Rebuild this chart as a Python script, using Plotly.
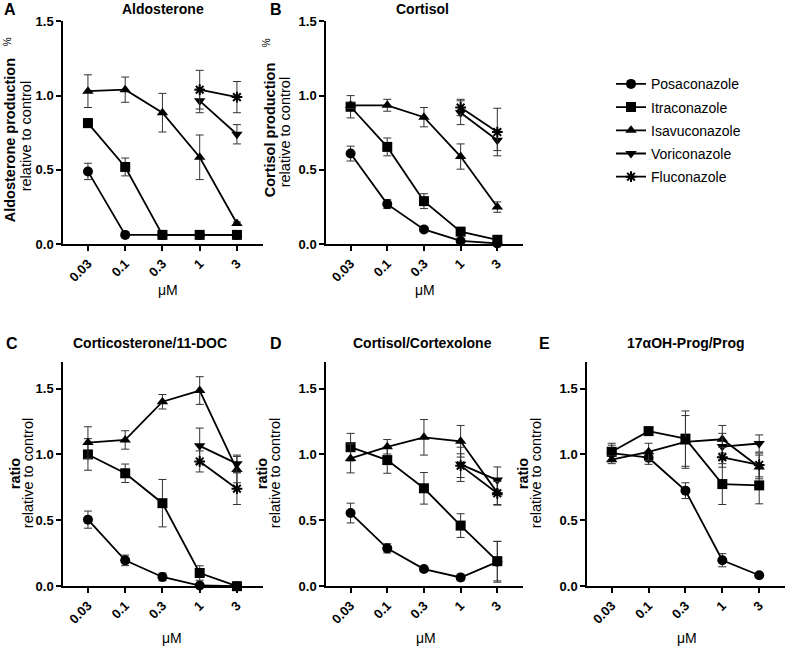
import plotly.graph_objects as go

W, H = 786, 646
FONT = "Liberation Sans, Arial, sans-serif"

doses = ["0.03", "0.1", "0.3", "1", "3"]
drugs = ["Posaconazole", "Itraconazole", "Isavuconazole", "Voriconazole", "Fluconazole"]
symbols = ["circle", "square", "triangle-up", "triangle-down", "asterisk-open"]

# Panel A: Aldosterone
a_posa = [0.49, 0.063, 0.063, 0.063, 0.063]
a_posa_err = [0.055, 0, 0, 0, 0]
a_itra = [0.815, 0.52, 0.063, 0.063, 0.063]
a_itra_err = [0.03, 0.06, 0, 0, 0]
a_isav = [1.03, 1.04, 0.885, 0.585, 0.14]
a_isav_err = [0.11, 0.085, 0.13, 0.15, 0.01]
a_vori = [None, None, None, 0.965, 0.74]
a_vori_err = [0, 0, 0, 0.08, 0.065]
a_fluc = [None, None, None, 1.04, 0.99]
a_fluc_err = [0, 0, 0, 0.13, 0.105]

# Panel B: Cortisol
b_posa = [0.61, 0.27, 0.10, 0.022, 0.006]
b_posa_err = [0.05, 0.03, 0.01, 0.01, 0.005]
b_itra = [0.925, 0.655, 0.29, 0.085, 0.03]
b_itra_err = [0.075, 0.06, 0.05, 0.01, 0.01]
b_isav = [0.935, 0.935, 0.855, 0.59, 0.25]
b_isav_err = [0.02, 0.04, 0.065, 0.085, 0.035]
b_vori = [None, None, None, 0.885, 0.70]
b_vori_err = [0, 0, 0, 0.08, 0.07]
b_fluc = [None, None, None, 0.92, 0.755]
b_fluc_err = [0, 0, 0, 0.055, 0.16]

# Panel C: Corticosterone/11-DOC
c_posa = [0.505, 0.196, 0.07, 0.005, 0.0]
c_posa_err = [0.065, 0.04, 0.03, 0.01, 0.0]
c_itra = [1.0, 0.857, 0.63, 0.10, 0.0]
c_itra_err = [0.12, 0.07, 0.18, 0.055, 0.01]
c_isav = [1.09, 1.11, 1.40, 1.485, 0.885]
c_isav_err = [0.12, 0.07, 0.055, 0.105, 0.1]
c_vori = [None, None, None, 1.065, 0.93]
c_vori_err = [0, 0, 0, 0.135, 0.065]
c_fluc = [None, None, None, 0.947, 0.74]
c_fluc_err = [0, 0, 0, 0.08, 0.12]

# Panel D: Cortisol/Cortexolone
d_posa = [0.555, 0.287, 0.13, 0.066, 0.185]
d_posa_err = [0.075, 0.035, 0.015, 0.025, 0.155]
d_itra = [1.055, 0.957, 0.743, 0.46, 0.19]
d_itra_err = [0.105, 0.1, 0.12, 0.09, 0.15]
d_isav = [0.97, 1.058, 1.13, 1.10, 0.71]
d_isav_err = [0.11, 0.055, 0.135, 0.12, 0.09]
d_vori = [None, None, None, 0.925, 0.805]
d_vori_err = [0, 0, 0, 0.13, 0.1]
d_fluc = [None, None, None, 0.915, 0.705]
d_fluc_err = [0, 0, 0, 0.09, 0.09]

# Panel E: 17aOH-Prog/Prog
e_posa = [1.01, 0.975, 0.725, 0.197, 0.083]
e_posa_err = [0.06, 0.05, 0.06, 0.05, 0.01]
e_itra = [1.02, 1.177, 1.12, 0.775, 0.765]
e_itra_err = [0.065, 0.02, 0.21, 0.155, 0.14]
e_isav = [0.96, 1.02, 1.095, 1.115, 0.905]
e_isav_err = [0.03, 0.065, 0.2, 0.105, 0.09]
e_vori = [None, None, None, 1.06, 1.083]
e_vori_err = [0, 0, 0, 0.1, 0.065]
e_fluc = [None, None, None, 0.978, 0.92]
e_fluc_err = [0, 0, 0, 0.075, 0.09]

panels = [
    ("A", "Aldosterone", [a_posa, a_itra, a_isav, a_vori, a_fluc],
     [a_posa_err, a_itra_err, a_isav_err, a_vori_err, a_fluc_err]),
    ("B", "Cortisol", [b_posa, b_itra, b_isav, b_vori, b_fluc],
     [b_posa_err, b_itra_err, b_isav_err, b_vori_err, b_fluc_err]),
    ("C", "Corticosterone/11-DOC", [c_posa, c_itra, c_isav, c_vori, c_fluc],
     [c_posa_err, c_itra_err, c_isav_err, c_vori_err, c_fluc_err]),
    ("D", "Cortisol/Cortexolone", [d_posa, d_itra, d_isav, d_vori, d_fluc],
     [d_posa_err, d_itra_err, d_isav_err, d_vori_err, d_fluc_err]),
    ("E", "17αOH-Prog/Prog", [e_posa, e_itra, e_isav, e_vori, e_fluc],
     [e_posa_err, e_itra_err, e_isav_err, e_vori_err, e_fluc_err]),
]

# layout in target-picture pixels (left, right, top, bottom, ymax)
boxes = [
    (63, 263, 21, 244, 1.5),
    (326, 523, 21, 244, 1.5),
    (63, 263, 362, 586, 1.7),
    (326, 523, 362, 586, 1.7),
    (587, 785, 362, 586, 1.7),
]

def px(x):
    return x / W

def py(y):
    # vertical compensation for the page photograph
    yf = (y - 6.7) / 0.977
    return 1 - yf / H

fig = go.Figure()
layout = {}
for i, ((letter, title, series, errs), (l, r, t, b, ymax)) in enumerate(zip(panels, boxes)):
    n = "" if i == 0 else str(i + 1)
    xa, ya = "x" + n, "y" + n
    for j, (vals, err) in enumerate(zip(series, errs)):
        xs = [k for k, v in enumerate(vals) if v is not None]
        ys = [v for v in vals if v is not None]
        es = [err[k] for k, v in enumerate(vals) if v is not None]
        fig.add_trace(go.Scatter(
            x=xs, y=ys, mode="lines+markers", name=drugs[j],
            xaxis=xa, yaxis=ya, legendgroup=drugs[j], showlegend=(i == 0),
            line=dict(color="black", width=1.8),
            marker=dict(symbol=symbols[j], size=10 if j != 4 else 9, color="black",
                        line=dict(color="black", width=2 if j == 4 else 0)),
            error_y=dict(type="data", array=es, visible=True, color="#333333",
                         thickness=1, width=4),
            cliponaxis=False,
        ))
    layout["xaxis" + n] = dict(
        domain=[px(l), px(r)], anchor=ya, range=[-0.67, 4.7],
        tickmode="array", tickvals=list(range(5)), ticktext=doses,
        tickangle=-45, ticks="outside", ticklen=5, tickwidth=1.5, tickcolor="black",
        showline=True, linecolor="black", linewidth=1.5, showgrid=False, zeroline=False,
        tickfont=dict(family=FONT, size=13, color="black", weight="bold"),
    )
    layout["yaxis" + n] = dict(
        domain=[py(b), py(t)], anchor=xa, range=[0, ymax],
        tickmode="array", tickvals=[0, 0.5, 1.0, 1.5], ticktext=["0.0", "0.5", "1.0", "1.5"],
        ticks="outside", ticklen=5, tickwidth=1.5, tickcolor="black",
        showline=True, linecolor="black", linewidth=1.5, showgrid=False, zeroline=False,
        tickfont=dict(family=FONT, size=13, color="black", weight="bold"),
    )

ann = []
def add_text(x, y, text, size, bold=False, angle=0):
    ann.append(dict(x=px(x), y=py(y), xref="paper", yref="paper", text=text,
                    showarrow=False, xanchor="center", yanchor="middle", textangle=angle,
                    font=dict(family=FONT, size=size, color="black",
                              weight="bold" if bold else "normal")))

# panel letters and titles
letters_pos = [(10, 9), (276, 9), (12, 343), (276, 343), (544, 343)]
titles_pos = [(163, 9), (422, 9), (150, 343), (422, 343), (686, 343)]
for (letter, title, _, _), lp, tp in zip(panels, letters_pos, titles_pos):
    add_text(lp[0], lp[1], letter, 16, bold=True)
    add_text(tp[0], tp[1], title, 14, bold=True)

# y-axis titles
add_text(10, 140, "Aldosterone production", 14.5, bold=True, angle=-90)
add_text(7, 42, "%", 10, angle=-90)
add_text(26, 136, "relative to control", 14.5, angle=-90)
add_text(270, 130, "Cortisol production", 14.5, bold=True, angle=-90)
add_text(266, 43, "%", 10, angle=-90)
add_text(285, 132, "relative to control", 14.5, angle=-90)
for xb, xr in [(15, 28), (262, 275), (523, 536)]:
    add_text(xb, 473, "ratio", 14.5, bold=True, angle=-90)
    add_text(xr, 473, "relative to control", 14.5, angle=-90)

# x-axis titles
for x, y in [(168, 290), (425, 290), (172, 638), (426, 638), (687, 638)]:
    add_text(x, y, "μM", 14)

fig.update_layout(
    width=W, height=H, margin=dict(l=0, r=0, t=0, b=0),
    paper_bgcolor="white", plot_bgcolor="white",
    showlegend=True,
    legend=dict(x=px(611), y=py(68), xanchor="left", yanchor="top",
                font=dict(family=FONT, size=14, color="black"),
                tracegroupgap=2, bgcolor="rgba(0,0,0,0)"),
    annotations=ann,
    **layout,
)

fig.write_html(
    "out.html",
    config={"displayModeBar": False},
    post_script="document.body.style.margin='0';document.body.style.overflow='hidden';",
)
